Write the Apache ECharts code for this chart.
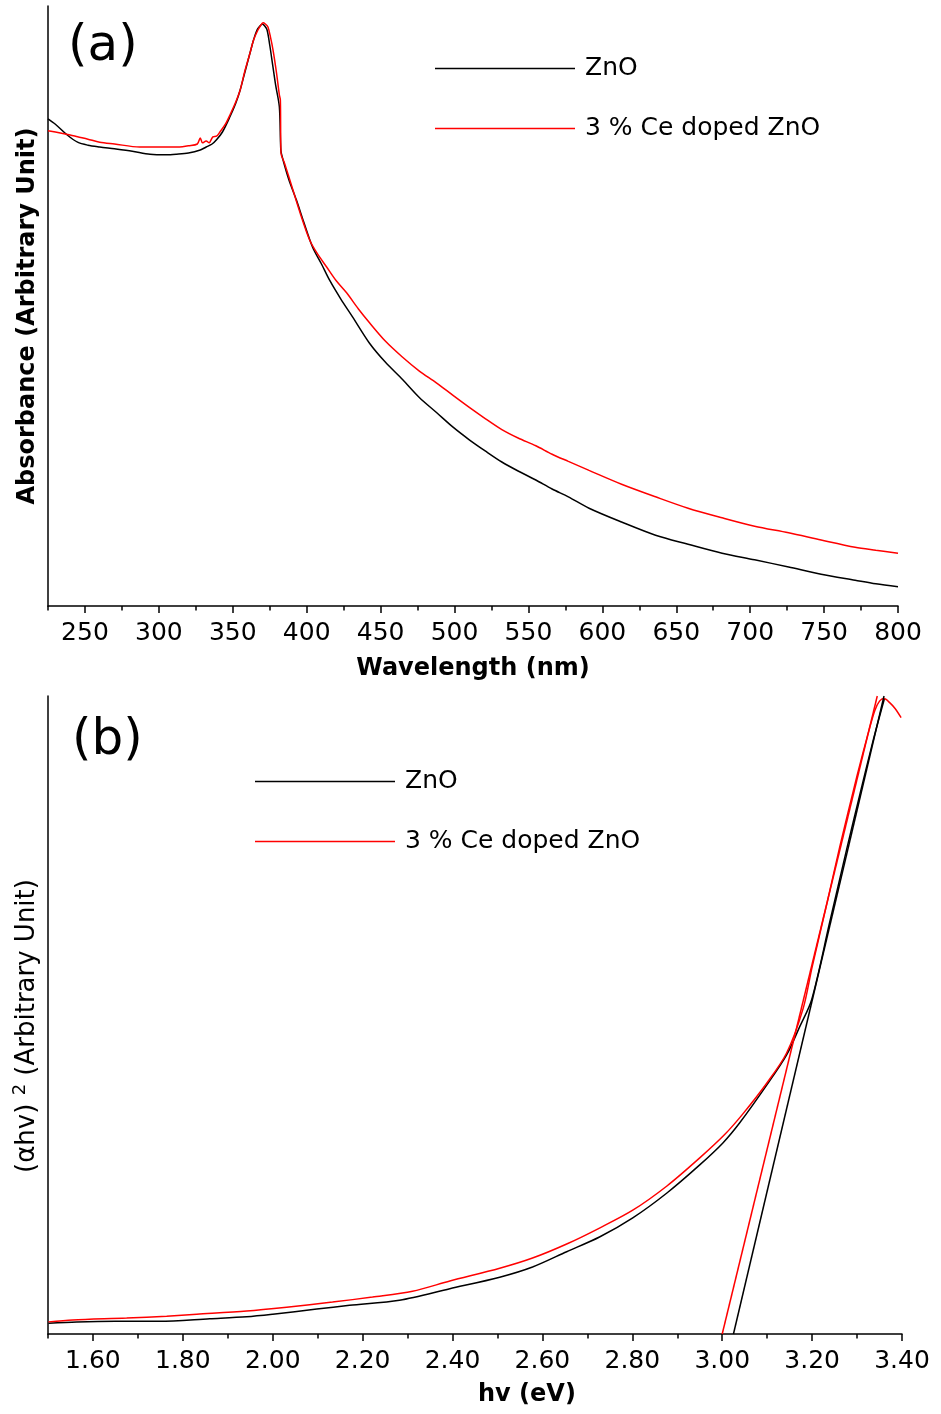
<!DOCTYPE html>
<html>
<head>
<meta charset="utf-8">
<script src="https://cdn.jsdelivr.net/npm/echarts@6/dist/echarts.min.js"></script>
<style>
html,body{margin:0;padding:0;background:#fff;}
#c{width:941px;height:1414px;}
</style>
</head>
<body>
<div id="c"></div>
<script>
// ---------- Panel (a): absorbance vs wavelength ----------
const wlZnO = [225,230,238,245,252,260,270,282,294,305,312,320,328,332,336,339,343,348,352,355,358,361.7,364,366.4,368.5,370,371.5,373.2,375,377.2,379,381.5,382.5,383.5,388,393,398,404,410,415.5,423,431,442.5,453,465,476,488,499,510,521,532,543,555,566,577,591,613,636,658,681,703,726,748,771,785,800];
const absZnO = [81.2,80.3,78.5,77.3,76.8,76.5,76.2,75.8,75.3,75.2,75.3,75.5,76.0,76.5,77.0,77.7,79.0,81.5,83.8,86.0,88.8,92.2,94.3,96.0,96.7,97.0,96.7,96.0,93.5,89.8,86.8,83.2,76.0,74.8,71.0,67.7,64.0,59.8,57.0,54.3,51.2,48.2,43.8,40.7,37.7,34.8,32.2,29.8,27.7,25.8,24.0,22.5,21.0,19.5,18.2,16.3,14.0,11.8,10.3,8.8,7.7,6.5,5.3,4.3,3.7,3.2];

const wlCe = [225,230,240,245,252,260,270,287,300,314,320,326,328,329.5,332,334,336.5,339,341.3,345,348,352,355,358,361.7,364,367,369,370.5,372,373.8,375.5,377.2,379.5,381.5,382.2,382.6,385,388.6,395.3,402,407,413.5,420,427,435,442.5,453,464.7,476,487.7,499,510,521,532,543,555,566,577,591,613,636,658,681,703,726,748,771,785,800];
const absCe = [79.2,79.0,78.5,78.2,77.8,77.3,77.0,76.5,76.5,76.5,76.7,77.0,78.0,77.2,77.5,77.2,78.2,78.3,79.0,80.3,81.8,84.0,86.0,89.0,92.2,94.3,96.0,96.8,97.2,97.0,96.5,94.8,92.7,89.0,85.2,84.3,75.5,73.8,71.0,65.7,61.0,58.8,56.5,54.2,52.2,49.5,47.2,44.2,41.5,39.2,37.2,35.1,33.1,31.2,29.4,28.0,26.7,25.3,24.1,22.6,20.3,18.2,16.3,14.7,13.3,12.2,11.0,9.8,9.3,8.8];

const wlMajorTicks = [250,300,350,400,450,500,550,600,650,700,750,800];
const wlMinorTicks = [225,275,325,375,425,475,525,575,625,675,725,775];

// ---------- Panel (b): (alpha h nu)^2 vs photon energy ----------
const evZnO = [1.501,1.564,1.650,1.748,1.860,1.942,2.000,2.098,2.171,2.282,2.394,2.505,2.578,2.654,2.727,2.801,2.877,2.950,3.001,3.039,3.099,3.143,3.172,3.199,3.239,3.277,3.306,3.335,3.361];
const ahvZnO = [1.7,1.9,2.0,2.0,2.4,2.7,3.1,3.9,4.5,5.3,7.1,8.9,10.5,12.9,15.2,18.2,22.1,26.5,29.9,33.1,39.0,43.7,48.1,52.4,64.5,76.0,84.5,92.8,99.6];

const evCe = [1.501,1.555,1.675,1.764,1.831,1.942,2.031,2.133,2.222,2.311,2.394,2.505,2.578,2.654,2.727,2.801,2.877,2.950,3.006,3.046,3.099,3.143,3.180,3.200,3.233,3.262,3.300,3.328,3.340,3.350,3.360,3.372,3.385,3.398];
const ahvCe = [1.9,2.2,2.5,2.8,3.1,3.6,4.2,5.0,5.8,6.7,8.3,10.3,11.9,14.1,16.6,19.4,23.2,27.6,31.3,34.5,39.3,44.0,51.0,57.5,67.5,76.5,87.5,95.0,97.8,99.2,99.6,99.0,98.0,96.6];

const tangentZnOx = [3.025, 3.36];
const tangentZnOy = [0, 100];
const tangentCex = [3.000, 3.345];
const tangentCey = [0, 100];

const evMajorTicks = [1.6,1.8,2.0,2.2,2.4,2.6,2.8,3.0,3.2,3.4];
const evMinorTicks = [1.5,1.7,1.9,2.1,2.3,2.5,2.7,2.9,3.1,3.3];

const seriesNames = ['ZnO', '3 % Ce doped ZnO'];

// ---------- build ----------
const zip = (xs, ys) => xs.map((x, i) => [x, ys[i]]);
const FONT = 'DejaVu Sans';
const BLACK = '#000000';
const RED = '#ff0000';

function majorAxis(grid, min, max, ticks, fmt, name, nameGap) {
  return {
    type: 'value', gridIndex: grid, min: min, max: max, position: 'bottom',
    axisLine: { show: true, onZero: false, lineStyle: { color: '#000', width: 1.5 } },
    axisTick: { show: true, inside: false, length: 7, customValues: ticks, lineStyle: { color: '#000', width: 1.5 } },
    axisLabel: { show: true, customValues: ticks, formatter: fmt, margin: 15, color: '#000', fontFamily: FONT, fontSize: 25 },
    splitLine: { show: false },
    name: name, nameLocation: 'middle', nameGap: nameGap,
    nameTextStyle: { fontFamily: FONT, fontSize: 24, fontWeight: 'bold', color: '#000' }
  };
}
function minorAxis(grid, min, max, ticks) {
  return {
    type: 'value', gridIndex: grid, min: min, max: max, position: 'bottom', offset: 0,
    axisLine: { show: false, onZero: false },
    axisTick: { show: true, inside: false, length: 4.5, customValues: ticks, lineStyle: { color: '#000', width: 1.5 } },
    axisLabel: { show: false },
    splitLine: { show: false }
  };
}
function yAxis(grid, name, nameStyle, nameGap) {
  return {
    type: 'value', gridIndex: grid, min: 0, max: 100, position: 'left',
    axisLine: { show: true, onZero: false, lineStyle: { color: '#000', width: 1.5 } },
    axisTick: { show: false }, axisLabel: { show: false }, splitLine: { show: false },
    name: name, nameLocation: 'middle', nameRotate: 90, nameGap: nameGap,
    nameTextStyle: nameStyle
  };
}
function lineSeries(name, x, y, color, xi, yi, smooth) {
  return {
    type: 'line', name: name, data: zip(x, y), xAxisIndex: xi, yAxisIndex: yi,
    symbol: 'none', showSymbol: false, smooth: smooth, clip: true,
    lineStyle: { color: color, width: 1.5 }, itemStyle: { color: color },
    emphasis: { disabled: true }
  };
}
function legend(left, top) {
  return {
    data: seriesNames, orient: 'vertical', left: left, top: top,
    icon: 'rect', itemWidth: 140, itemHeight: 1.5, itemGap: 35, selectedMode: false,
    textStyle: { fontFamily: FONT, fontSize: 25, color: '#000', padding: [0, 0, 0, 5] }
  };
}

const option = {
  animation: false,
  backgroundColor: '#ffffff',
  grid: [
    { left: 48, right: 43, top: 6, bottom: 808, containLabel: false },
    { left: 48, right: 39, top: 696, bottom: 80, containLabel: false }
  ],
  xAxis: [
    majorAxis(0, 225, 800, wlMajorTicks, v => String(v), 'Wavelength (nm)', 51),
    minorAxis(0, 225, 800, wlMinorTicks),
    majorAxis(1, 1.5, 3.4, evMajorTicks, v => Number(v).toFixed(2), '', 50),
    minorAxis(1, 1.5, 3.4, evMinorTicks)
  ],
  yAxis: [
    yAxis(0, 'Absorbance (Arbitrary Unit)', { fontFamily: FONT, fontSize: 24, fontWeight: 'bold', color: '#000', padding: [0, 20, 0, 0] }, 8),
    yAxis(1, '(αhv) {sup|2} (Arbitrary Unit)', {
      fontFamily: FONT, fontSize: 26, fontWeight: 'normal', color: '#000', padding: [0, 22, 0, 0],
      rich: { sup: { fontFamily: FONT, fontSize: 18, color: '#000', padding: [0, 0, 14, 0] } }
    }, 5)
  ],
  legend: [ legend(430, 51), legend(250, 764) ],
  graphic: [
    { type: 'text', left: 68, top: 22, style: { text: '(a)', fontFamily: FONT, fontSize: 50, fill: '#000' } },
    { type: 'text', left: 72, top: 716, style: { text: '(b)', fontFamily: FONT, fontSize: 50, fill: '#000' } },
    { type: 'text', left: 478, top: 1383, style: { text: 'hv (eV)', fontFamily: FONT, fontSize: 24, fontWeight: 'bold', fill: '#000' } }
  ],
  series: [
    lineSeries(seriesNames[0], wlZnO, absZnO, BLACK, 0, 0, 0.3),
    lineSeries(seriesNames[1], wlCe, absCe, RED, 0, 0, 0.3),
    lineSeries(seriesNames[0], evZnO, ahvZnO, BLACK, 2, 1, 0.3),
    lineSeries(seriesNames[1], evCe, ahvCe, RED, 2, 1, 0.3),
    lineSeries('ZnO tangent', tangentZnOx, tangentZnOy, BLACK, 2, 1, false),
    lineSeries('Ce doped ZnO tangent', tangentCex, tangentCey, RED, 2, 1, false)
  ]
};

const chart = echarts.init(document.getElementById('c'), null, { renderer: 'canvas' });
chart.setOption(option);
</script>
</body>
</html>
